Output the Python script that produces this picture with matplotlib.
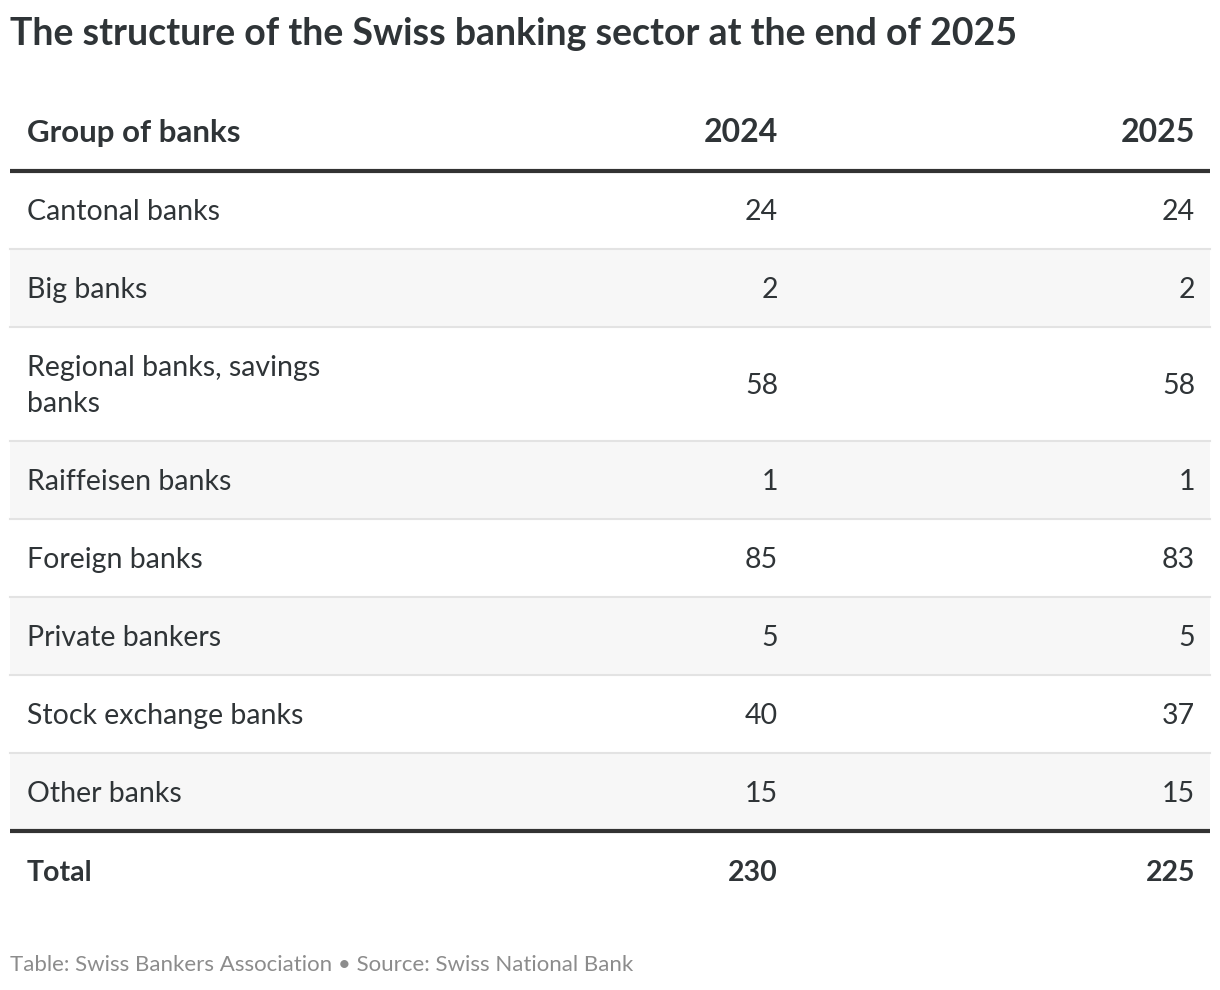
import matplotlib
matplotlib.use("Agg")
import matplotlib.pyplot as plt
from matplotlib.patches import Rectangle

# data
groups = ["Cantonal banks", "Big banks", "Regional banks, savings\nbanks",
          "Raiffeisen banks", "Foreign banks", "Private bankers",
          "Stock exchange banks", "Other banks"]
years = ["2024", "2025"]
banks_2024 = [24, 2, 58, 1, 85, 5, 40, 15]
banks_2025 = [24, 2, 58, 1, 83, 5, 37, 15]
total_2024 = 230
total_2025 = 225

title = "The structure of the Swiss banking sector at the end of 2025"
footer = "Table: Swiss Bankers Association \u2022 Source: Swiss National Bank"

TXT = "#2f3437"
plt.rcParams['font.family'] = ['Lato', 'DejaVu Sans']

W, H = 1220, 990
fig = plt.figure(figsize=(W / 100, H / 100), dpi=100)
ax = fig.add_axes([0, 0, 1, 1])
ax.set_xlim(0, W)
ax.set_ylim(H, 0)
ax.axis("off")

left, right = 10, 1210
col_x = [778, 1195]
fs = 20.5

ax.text(left, 34, title, fontsize=27, fontweight="bold", color=TXT, va="center")

# header
ax.text(27, 133, "Group of banks", fontsize=22.5, fontweight="bold", color=TXT, va="center")
for x, yr in zip(col_x, years):
    ax.text(x, 133, yr, fontsize=23, fontweight="bold", color=TXT, va="center", ha="right")

y = 171
for i, (g, a, b) in enumerate(zip(groups, banks_2024, banks_2025)):
    h = 114 if "\n" in g else 78
    if i % 2 == 1:
        ax.add_patch(Rectangle((left, y), right - left, h, color="#f7f7f7", lw=0, zorder=0))
    ax.text(27, y + h / 2 + 2, g, fontsize=fs, color=TXT, va="center", linespacing=1.5)
    for x, v in zip(col_x, (a, b)):
        ax.text(x, y + h / 2 + 2, str(v), fontsize=fs, color=TXT, va="center", ha="right")
    if i > 0:
        ax.plot([left, right], [y, y], color="#e3e3e3", lw=1.5, zorder=1)
    y += h

ax.plot([left, right], [171, 171], color="#333333", lw=3, solid_capstyle="butt", zorder=2)
ax.plot([left, right], [y, y], color="#333333", lw=3, solid_capstyle="butt", zorder=2)

ax.text(27, y + 42, "Total", fontsize=fs, fontweight="bold", color=TXT, va="center")
for x, v in zip(col_x, (total_2024, total_2025)):
    ax.text(x, y + 42, str(v), fontsize=fs, fontweight="bold", color=TXT, va="center", ha="right")

ax.text(left, 965, footer, fontsize=16, color="#8c8c8c", va="center")

fig.savefig("out.png", dpi=100)
